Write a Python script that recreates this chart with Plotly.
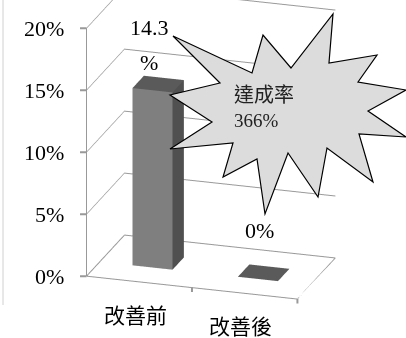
import plotly.graph_objects as go

# Chart data
categories = ["改善前", "改善後"]
rates = [0.143, 0.0]
rate_ticks = [0, 0.05, 0.10, 0.15, 0.20]
rate_ticklabels = ["0%", "5%", "10%", "15%", "20%"]
callout_title = "達成率"
callout_value = "366%"

# Styling constants
BAR_W = 0.38
DEPTH0, DEPTH1 = 0.35, 0.65
FRONT_C, SIDE_C, TOP_C = "#7f7f7f", "#505050", "#5a5a5a"
GRID_C = "#999999"
SERIF = "Liberation Serif, Times New Roman, serif"
CJK = "Noto Sans CJK TC, Noto Sans CJK SC, sans-serif"
W, H = 406, 338
ZOOM = 1.309

fig = go.Figure()


def column(i, v):
    """A box-shaped column standing on the floor, height v."""
    x0, x1 = i - BAR_W / 2, i + BAR_W / 2
    xs = [x0, x1, x1, x0, x0, x1, x1, x0]
    ys = [DEPTH0, DEPTH0, DEPTH1, DEPTH1] * 2
    zs = [0] * 4 + [v] * 4
    faces = [
        ((0, 1, 5), FRONT_C), ((0, 5, 4), FRONT_C),
        ((1, 2, 6), SIDE_C), ((1, 6, 5), SIDE_C),
        ((4, 5, 6), TOP_C), ((4, 6, 7), TOP_C),
        ((3, 0, 4), FRONT_C), ((3, 4, 7), FRONT_C),
        ((2, 3, 7), SIDE_C), ((2, 7, 6), SIDE_C),
        ((0, 3, 2), TOP_C), ((0, 2, 1), TOP_C),
    ]
    return go.Mesh3d(
        x=xs, y=ys, z=zs,
        i=[f[0][0] for f in faces], j=[f[0][1] for f in faces], k=[f[0][2] for f in faces],
        facecolor=[f[1] for f in faces],
        flatshading=True,
        lighting=dict(ambient=1, diffuse=0, specular=0, roughness=1, fresnel=0),
        hoverinfo="skip", showscale=False,
    )


for idx, val in enumerate(rates):
    fig.add_trace(column(idx, val))

x_lo, x_hi = -0.5, len(categories) - 0.5
z_hi = rate_ticks[-1]

# floor outline and the front value axis line
fig.add_trace(go.Scatter3d(
    x=[x_lo, x_hi, x_hi, x_lo, x_lo, x_lo], y=[0, 0, 1, 1, 0, 0], z=[0, 0, 0, 0, 0, z_hi],
    mode="lines", line=dict(color=GRID_C, width=2), hoverinfo="skip", showlegend=False,
))

axis_common = dict(showbackground=False, showspikes=False, zeroline=False,
                   showticklabels=False, ticks="", title=dict(text=""))

# value labels above each column
value_notes = []
for i, v in enumerate(rates):
    mid = (DEPTH0 + DEPTH1) / 2
    if v > 0:
        value_notes.append(dict(x=i, y=mid, z=v, text="%", showarrow=False, yanchor="bottom",
                                yshift=7, xshift=-9, font=dict(family=SERIF, size=22, color="black")))
        value_notes.append(dict(x=i, y=mid, z=v, text=f"{v * 100:.1f}", showarrow=False,
                                yanchor="bottom", yshift=42, xshift=-9,
                                font=dict(family=SERIF, size=22, color="black")))
    else:
        value_notes.append(dict(x=i, y=mid, z=v, text=f"{v * 100:.0f}%", showarrow=False,
                                yanchor="bottom", yshift=28, xshift=-4,
                                font=dict(family=SERIF, size=22, color="black")))

# value axis: tick marks and labels on the front-left edge
tick_marks = [dict(x=x_lo, y=0, z=t, text="", showarrow=True, arrowhead=0, arrowwidth=2,
                   arrowcolor=GRID_C, ax=-8, ay=0)
              for t in rate_ticks]
tick_notes = [dict(x=x_lo, y=0, z=t, text=lab, showarrow=False, xanchor="right", xshift=-21,
                   font=dict(family=SERIF, size=22, color="black"))
              for t, lab in zip(rate_ticks, rate_ticklabels)]
# category axis: boundary tick marks and centred labels
cat_marks = [dict(x=x_lo + 1 + k, y=0, z=0, text="", showarrow=True, arrowhead=0, arrowwidth=2,
                  arrowcolor=GRID_C, ax=0, ay=6)
             for k in range(len(categories))]
cat_notes = [dict(x=i, y=0, z=0, text=c, showarrow=False, yanchor="top", yshift=-15, xshift=-4,
                  font=dict(family=CJK, size=21, color="black"))
             for i, c in enumerate(categories)]

fig.update_layout(
    width=W, height=H,
    margin=dict(l=0, r=0, t=0, b=0),
    paper_bgcolor="white",
    showlegend=False,
    scene=dict(
        domain=dict(x=[0, 1], y=[0, 1]),
        xaxis=dict(range=[x_lo, x_hi], showgrid=False, showline=False, **axis_common),
        yaxis=dict(range=[0, 1], visible=False, **axis_common),
        zaxis=dict(range=[0, z_hi], tickvals=rate_ticks,
                   showgrid=True, gridcolor=GRID_C, gridwidth=2, showline=False, **axis_common),
        aspectmode="manual",
        aspectratio=dict(x=1.0 * ZOOM, y=0.568 * ZOOM, z=1.193 * ZOOM),
        camera=dict(eye=dict(x=0.496, y=-1.722, z=0.491),
                    center=dict(x=-0.029, y=-0.064, z=-0.144),
                    projection=dict(type="orthographic")),
        annotations=value_notes + tick_marks + tick_notes + cat_marks + cat_notes,
    ),
)

# starburst callout
star = [(173, 36), (252, 73), (263, 35), (291, 68), (333, 14), (329, 63), (377, 55),
        (358, 82), (406, 90), (368, 111), (406, 137), (359, 134), (373, 182), (327, 148),
        (318, 197), (288, 153), (265, 214), (257, 159), (223, 177), (233, 143), (170, 149),
        (212, 122), (170, 95), (220, 83)]
path = "M " + " L ".join(f"{px / W:.4f},{1 - py / H:.4f}" for px, py in star) + " Z"
fig.add_shape(type="path", path=path, xref="paper", yref="paper",
              fillcolor="#dcdcdc", line=dict(color="black", width=1.2), layer="above")
fig.add_annotation(x=232 / W, y=1 - 94 / H, xref="paper", yref="paper", text=callout_title,
                   showarrow=False, xanchor="left", yanchor="middle",
                   font=dict(family=CJK, size=20, color="#222222"))
fig.add_annotation(x=232 / W, y=1 - 120 / H, xref="paper", yref="paper", text=callout_value,
                   showarrow=False, xanchor="left", yanchor="middle",
                   font=dict(family=SERIF, size=19, color="#222222"))

# thin frame edge on the left
fig.add_shape(type="line", x0=3 / W, x1=3 / W, y0=1 - 305 / H, y1=1, xref="paper", yref="paper",
              line=dict(color="#d0d0d0", width=1))

fig.write_html("out.html")
